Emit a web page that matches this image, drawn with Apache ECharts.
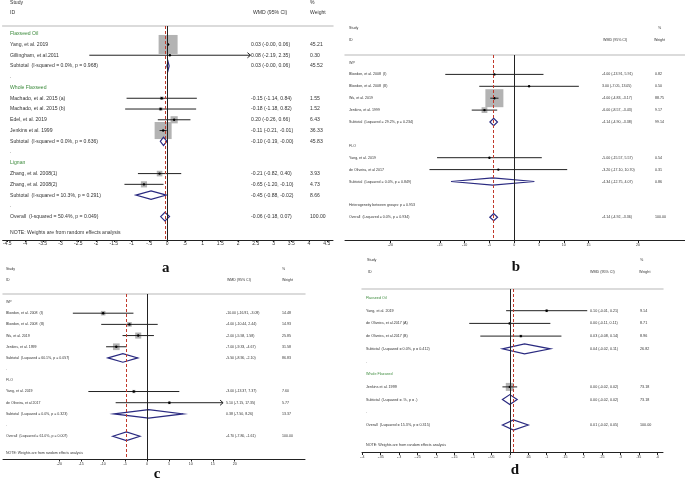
<!DOCTYPE html>
<html><head><meta charset="utf-8">
<script src="https://cdn.jsdelivr.net/npm/echarts@6/dist/echarts.min.js"></script>
<style>html,body{margin:0;padding:0;background:#fff}#c{width:685px;height:478px}</style>
</head><body><div id="c"></div>
<script>
// ---------- Panel a ----------
const aLabels = ["Flaxseed Oil","Yang, et al. 2019","Gillingham, et al.2011","Subtotal  (I-squared = 0.0%, p = 0.968)",".","Whole Flaxseed","Machado, et al. 2015 (a)","Machado, et al. 2015 (b)","Edel, et al. 2019","Jenkins et al. 1999","Subtotal  (I-squared = 0.0%, p = 0.636)",".","Lignan","Zhang, et al. 2008(1)","Zhang, et al. 2008(2)","Subtotal  (I-squared = 10.3%, p = 0.291)",".","Overall  (I-squared = 50.4%, p = 0.049)","NOTE: Weights are from random effects analysis"];
const aKinds = "g s s u d g s s s s u d g s s u d o n".split(" ");
const aEst = [null,0.03,0.08,0.03,null,null,-0.15,-0.18,0.20,-0.11,-0.10,null,null,-0.21,-0.65,-0.45,null,-0.06,null];
const aLo  = [null,-0.004,-2.19,-0.004,null,null,-1.14,-1.18,-0.26,-0.21,-0.19,null,null,-0.82,-1.20,-0.88,null,-0.18,null];
const aHi  = [null,0.06,2.35,0.06,null,null,0.84,0.82,0.66,-0.01,-0.004,null,null,0.40,-0.10,-0.02,null,0.07,null];
const aWeight = [null,45.21,0.30,45.52,null,null,1.55,1.52,6.43,36.33,45.83,null,null,3.93,4.73,8.66,null,100.00,null];
const aTicks = [-4.5,-4,-3.5,-3,-2.5,-2,-1.5,-1,-0.5,0,0.5,1,1.5,2,2.5,3,3.5,4,4.5];

// ---------- Panel b ----------
const bLabels = ["WP","Bloedon, et al. 2008  (Ⅰ)","Bloedon, et al. 2008  (Ⅱ)","Wu, et al. 2019","Jenkins, et al. 1999","Subtotal  (I-squared = 29.2%, p = 0.234)","","FLO","Yang, et al. 2019","de Oliveira, et al 2017","Subtotal  (I-squared = 0.0%, p = 0.849)","","Heterogeneity between groups: p = 0.953","Overall  (I-squared = 0.0%, p = 0.934)"];
const bKinds = "g s s s s u b g s s u b t o".split(" ");
const bEst = [null,-4.00,3.00,-4.00,-6.00,-4.14,null,null,-5.00,-3.20,-4.34,null,null,-4.14];
const bLo  = [null,-13.91,-7.05,-4.83,-8.57,-4.90,null,null,-15.57,-17.10,-12.75,null,null,-4.92];
const bHi  = [null,5.91,13.05,-3.17,-3.43,-3.38,null,null,5.57,10.70,4.07,null,null,-3.36];
const bWeight = [null,0.82,0.50,88.75,9.17,99.14,null,null,0.54,0.31,0.86,null,null,100.00];
const bTicks = [-25,-15,-10,-5,0,5,10,15,25];
const bTickLabels = ["-20","-15","-10","-5","0","5","10","15","20"];

// ---------- Panel c ----------
const cLabels = ["WP","Bloedon, et al. 2008  (Ⅰ)","Bloedon, et al. 2008  (Ⅱ)","Wu, et al. 2019","Jenkins, et al. 1999","Subtotal  (I-squared = 60.1%, p = 0.057)",".","FLO","Yang, et al. 2019","de Oliveira, et al 2017","Subtotal  (I-squared = 0.0%, p = 0.323)",".","Overall  (I-squared = 61.0%, p = 0.007)","NOTE: Weights are from random effects analysis"];
const cKinds = "g s s s s u d g s s u d o n".split(" ");
const cEst = [null,-10.00,-4.00,-2.00,-7.00,-5.50,null,null,-3.00,5.10,0.38,null,-4.70,null];
const cLo  = [null,-16.91,-10.44,-5.58,-9.33,-8.90,null,null,-13.37,-7.15,-7.50,null,-7.80,null];
const cHi  = [null,-3.09,2.44,1.58,-4.67,-2.10,null,null,7.37,17.35,8.26,null,-1.61,null];
const cWeight = [null,14.48,14.93,25.85,31.58,86.83,null,null,7.60,5.77,13.37,null,100.00,null];
const cTicks = [-20,-15,-10,-5,0,5,10,15,20];

// ---------- Panel d ----------
const dLabels = ["Flaxseed Oil","Yang, et al. 2019","de Oliveira, et al.2017 (A)","de Oliveira, et al.2017 (B)","Subtotal  (I-squared = 0.0%, p = 0.412)",".","Whole Flaxseed","Jenkins et al. 1999","Subtotal  (I-squared = .%, p = .)",".","Overall  (I-squared = 15.3%, p = 0.315)","NOTE: Weights are from random effects analysis"];
const dKinds = "g s s s u d g s u d o n".split(" ");
const dEst = [null,0.10,0.00,0.03,0.04,null,null,0.00,0.00,null,0.01,null];
const dLo  = [null,-0.01,-0.11,-0.08,-0.02,null,null,-0.02,-0.02,null,-0.02,null];
const dHi  = [null,0.21,0.11,0.14,0.11,null,null,0.02,0.02,null,0.05,null];
const dWeight = [null,9.14,8.71,8.96,26.82,null,null,73.18,73.18,null,100.00,null];
const dTicks = [-0.4,-0.35,-0.3,-0.25,-0.2,-0.15,-0.1,-0.05,0,0.05,0.1,0.15,0.2,0.25,0.3,0.35,0.4];

const FONT = '"Liberation Sans", Arial, sans-serif';
const stataFmt = v => String(v).replace(/^(-?)0\./, '$1.');

const panels = [
 {labels:aLabels,kinds:aKinds,est:aEst,lo:aLo,hi:aHi,w:aWeight,ticks:aTicks,fmt:stataFmt,
  left:0,right:333,top:26,bottom:240,zero:165.7,ppu:35.78,row0:33.7,step:10.76,noteShift:0.46,
  colLabel:10,colCI:251,colW:310,fs:5.1,axFs:5,tickLen:2,labMargin:1.5,boxK:2.826,dh:4.2,
  groupColor:'#3b8a3b',arrowAbove:2.0,
  heads:{study:[10,2.5],id:[10,13],wmd:[253,13],pct:[310,2.5],weight:[310,13]},letter:['a',165.7,268]},
 {labels:bLabels,kinds:bKinds,est:bEst,lo:bLo,hi:bHi,w:bWeight,ticks:bTicks,fmt:v=>bTickLabels[bTicks.indexOf(v)],
  left:345,right:685,top:55,bottom:240,zero:514.2,ppu:4.955,row0:62.5,step:11.9,noteShift:0,
  colLabel:349,colCI:602,colW:655,fs:3.6,axFs:3.6,tickLen:3,labMargin:3,boxK:1.91,dh:3.6,
  groupColor:'#444',arrowAbove:99,
  heads:{study:[349,28],id:[349,40],wmd:[603,40],pct:[658,28],weight:[654,40]},letter:['b',516,267]},
 {labels:cLabels,kinds:cKinds,est:cEst,lo:cLo,hi:cHi,w:cWeight,ticks:cTicks,fmt:stataFmt,
  left:3,right:305,top:294,bottom:459,zero:147,ppu:4.385,row0:302,step:11.19,noteShift:0.5,
  colLabel:6,colCI:226,colW:282,fs:3.55,axFs:3.6,tickLen:2.5,labMargin:2.5,boxK:1.19,dh:4.3,
  groupColor:'#444',arrowAbove:15,
  heads:{study:[6,269],id:[6,280],wmd:[227,280],pct:[282,269],weight:[282,280]},letter:['c',157,474]},
 {labels:dLabels,kinds:dKinds,est:dEst,lo:dLo,hi:dHi,w:dWeight,ticks:dTicks,fmt:stataFmt,
  left:362,right:663,top:289,bottom:452,zero:509.8,ppu:368.75,row0:298,step:12.7,noteShift:0.57,
  colLabel:366,colCI:590,colW:640,fs:3.7,axFs:3.6,tickLen:3,labMargin:2.5,boxK:0.935,dh:5,
  groupColor:'#3b8a3b',arrowAbove:99,
  heads:{study:[367,260],id:[368,272],wmd:[590,272],pct:[640,260],weight:[639,272]},letter:['d',515,470]}
];

const chart = echarts.init(document.getElementById('c'), null, {renderer:'canvas'});
const grids=[], xAxes=[], yAxes=[], series=[], graphics=[];

function ciText(P,i){ return P.est[i].toFixed(2)+' ('+P.lo[i].toFixed(2)+', '+P.hi[i].toFixed(2)+')'; }

function makeRender(P){
  return function(params, api){
    const i = params.dataIndex, k = P.kinds[i];
    const row = i + (k==='n' ? P.noteShift : 0);
    const y = api.coord([0,row])[1];
    const ch = [];
    const txt = (x,s,color) => ({type:'text', style:{x:x, y:y, text:s, fill:color||'#333', font:P.fs+'px '+FONT, verticalAlign:'middle', align:'left'}});
    if (P.labels[i]) ch.push(txt(P.colLabel, P.labels[i], k==='g'?P.groupColor:'#333'));
    if (P.est[i] != null){
      const xe = api.coord([P.est[i],row])[0], xl = api.coord([P.lo[i],row])[0], xh = api.coord([P.hi[i],row])[0];
      ch.push(txt(P.colCI, ciText(P,i)));
      ch.push(txt(P.colW, P.w[i].toFixed(2)));
      if (k==='s'){
        const s = P.boxK*Math.sqrt(P.w[i]);
        ch.push({type:'rect', shape:{x:xe-s/2,y:y-s/2,width:s,height:s}, style:{fill:'#b3b3b3'}});
        ch.push({type:'line', shape:{x1:xl,y1:y,x2:xh,y2:y}, style:{stroke:'#222',lineWidth:1}});
        if (P.hi[i] > P.arrowAbove) ch.push({type:'polyline', shape:{points:[[xh-3,y-2.6],[xh,y],[xh-3,y+2.6]]}, style:{stroke:'#222',fill:null,lineWidth:1}});
        ch.push({type:'circle', shape:{cx:xe,cy:y,r:1.2}, style:{fill:'#000'}});
      } else {
        ch.push({type:'polygon', shape:{points:[[xl,y],[xe,y-P.dh],[xh,y],[xe,y+P.dh]]}, style:{fill:'none',stroke:'#2a2a80',lineWidth:1.2}});
      }
    }
    return {type:'group', children:ch};
  };
}

panels.forEach((P,g)=>{
  const xMin=(P.left-P.zero)/P.ppu, xMax=(P.right-P.zero)/P.ppu;
  const yMin=(P.top-P.row0)/P.step, yMax=(P.bottom-P.row0)/P.step;
  grids.push({left:P.left, top:P.top, width:P.right-P.left, height:P.bottom-P.top, containLabel:false});
  xAxes.push({gridIndex:g, type:'value', position:'bottom', min:xMin, max:xMax,
    axisLine:{onZero:false, lineStyle:{color:'#222',width:1}},
    axisTick:{length:P.tickLen, lineStyle:{color:'#222'}, customValues:P.ticks},
    axisLabel:{customValues:P.ticks, formatter:P.fmt, fontSize:P.axFs, color:'#333', margin:P.labMargin, fontFamily:FONT, hideOverlap:false},
    splitLine:{show:false}});
  xAxes.push({gridIndex:g, type:'value', position:'top', min:xMin, max:xMax,
    axisLine:{show:true, onZero:false, lineStyle:{color:'#cfcfcf',width:1.5}},
    axisTick:{show:false}, axisLabel:{show:false}, splitLine:{show:false}});
  yAxes.push({gridIndex:g, type:'value', inverse:true, min:yMin, max:yMax, show:false});
  const overall = P.est[P.kinds.indexOf('o')];
  series.push({type:'line', xAxisIndex:2*g, yAxisIndex:g, data:[], z:1, silent:true, animation:false,
    markLine:{silent:true, symbol:'none', label:{show:false}, animation:false,
      data:[{xAxis:0, lineStyle:{color:'#222',width:1,type:'solid'}},
            {xAxis:overall, lineStyle:{color:'#c0392b',width:1,type:[3,2]}}]}});
  series.push({type:'custom', xAxisIndex:2*g, yAxisIndex:g, z:3, animation:false, silent:true,
    data:P.labels.map((_,i)=>[P.est[i]==null?0:P.est[i], i]),
    encode:{x:0,y:1}, renderItem:makeRender(P)});
  const hf = P.fs+'px '+FONT;
  const H = P.heads;
  [['Study',H.study],['ID',H.id],['WMD (95% CI)',H.wmd],['%',H.pct],['Weight',H.weight]].forEach(([t,pos])=>{
    graphics.push({type:'text', x:pos[0], y:pos[1], silent:true,
      style:{text:t, font:hf, fill:'#333', verticalAlign:'middle', align:'left', textVerticalAlign:'middle'}});
  });
  graphics.push({type:'text', x:P.letter[1], y:P.letter[2], silent:true,
    style:{text:P.letter[0], font:'bold 15px "Liberation Serif", "Times New Roman", serif', fill:'#111', align:'center', verticalAlign:'middle', textAlign:'center', textVerticalAlign:'middle'}});
});

chart.setOption({animation:false, backgroundColor:'#fff', grid:grids, xAxis:xAxes, yAxis:yAxes, series:series, graphic:graphics});
</script>
</body></html>
